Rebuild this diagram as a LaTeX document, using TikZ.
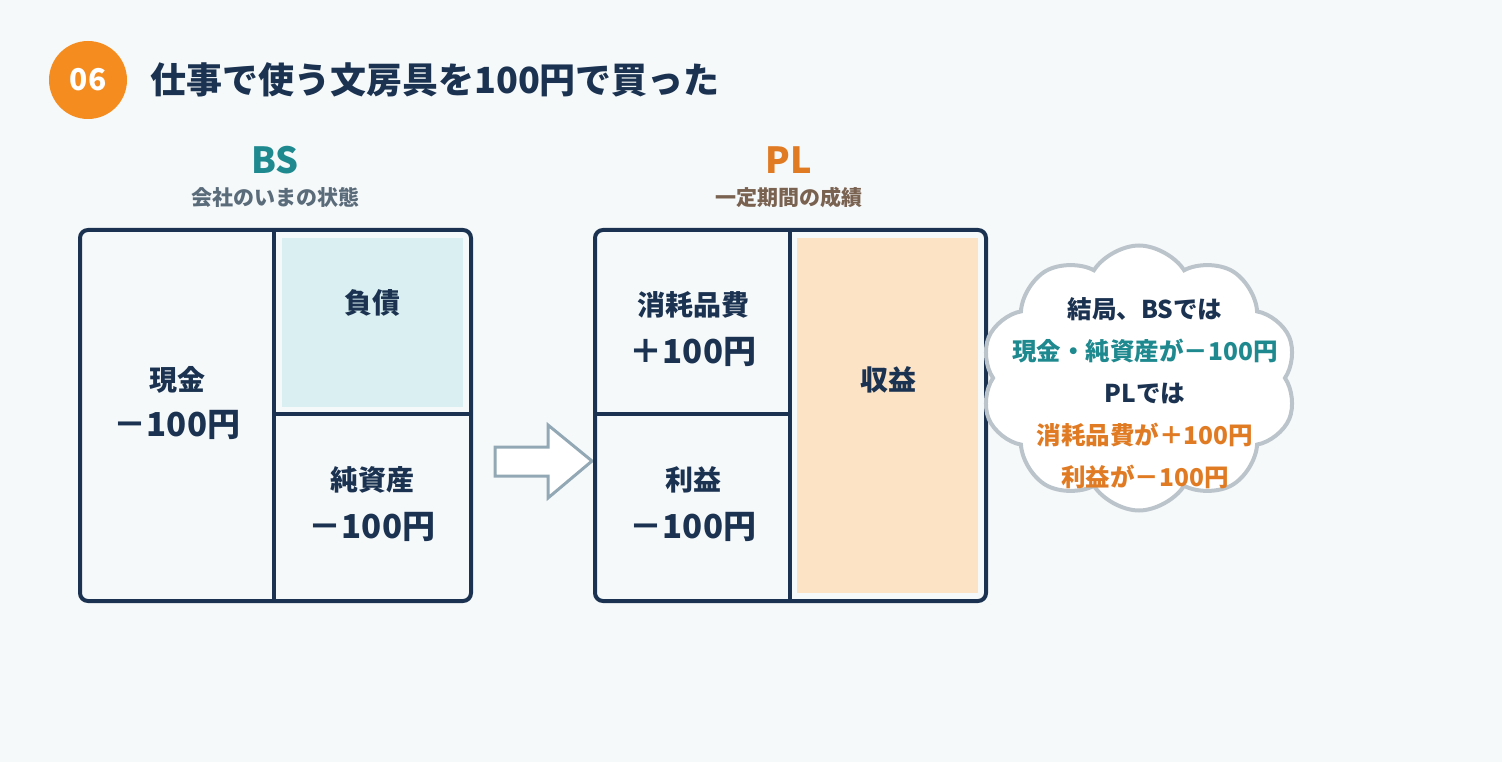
\documentclass[tikz,border=0pt]{standalone}
\usepackage{fontspec}
\setmainfont{Noto Sans CJK JP}
\usetikzlibrary{shapes.symbols}
\definecolor{bg}{HTML}{F6F9FA}
\definecolor{navy}{HTML}{1B3350}
\definecolor{orangeC}{HTML}{F58C1F}
\definecolor{teal}{HTML}{1E8A8F}
\definecolor{orangeT}{HTML}{E07B24}
\definecolor{greyT}{HTML}{5A6B7A}
\definecolor{brownT}{HTML}{7A6250}
\definecolor{liab}{HTML}{D9EFF1}
\definecolor{rev}{HTML}{FCE3C6}
\definecolor{arrowC}{HTML}{93A8B5}
\definecolor{cloudC}{HTML}{BCC4CB}
\tikzset{
  frame/.style={draw=navy, line width=4pt, rounded corners=8pt},
  divider/.style={draw=navy, line width=4pt},
  lbl/.style={font=\bfseries\fontsize{28}{32}\selectfont, text=navy, inner sep=0pt},
  amt/.style={font=\bfseries\fontsize{33}{36}\selectfont, text=navy, inner sep=0pt},
  head/.style={font=\bfseries\fontsize{36}{40}\selectfont, inner sep=0pt},
  sub/.style={font=\bfseries\fontsize{21}{24}\selectfont, inner sep=0pt},
}
\begin{document}
\begin{tikzpicture}[x=1pt,y=-1pt]
\fill[bg] (0,0) rectangle (1502,762);
\useasboundingbox (0,0) rectangle (1502,762);
% header
\node[circle, fill=orangeC, minimum size=78pt, inner sep=0pt, text=white, font=\bfseries\fontsize{30}{34}\selectfont] (num) at (88,80) {06};
\node[anchor=west, inner sep=0pt, text=navy, font=\bfseries\fontsize{36}{40}\selectfont] (title) at (150,80) {仕事で使う文房具を100円で買った};
% BS
\node[head, text=teal] (bsh) at (275,160) {BS};
\node[sub, text=greyT] (bss) at (275,197) {会社のいまの状態};
\fill[liab] (282,238) rectangle (463,407);
\draw[frame] (80,230) rectangle (471,601);
\draw[divider] (274,230) -- (274,601);
\draw[divider] (274,414) -- (471,414);
\node[lbl] (cash) at (177,380) {現金};
\node[amt] (cashv) at (177,425) {－100円};
\node[lbl] (liabl) at (372,303) {負債};
\node[lbl] (eq) at (372,480) {純資産};
\node[amt] (eqv) at (372,527) {－100円};
% arrow
\draw[draw=arrowC, fill=white, line width=3pt, line join=miter]
  (495,447) -- (548,447) -- (548,425) -- (592,461) -- (548,498) -- (548,476) -- (495,476) -- cycle;
% PL
\node[head, text=orangeT] (plh) at (789,160) {PL};
\node[sub, text=brownT] (pls) at (789,197) {一定期間の成績};
\fill[rev] (797,238) rectangle (978,593);
\draw[frame] (595,230) rectangle (986,601);
\draw[divider] (790,230) -- (790,601);
\draw[divider] (595,414) -- (790,414);
\node[lbl] (exp) at (693,305) {消耗品費};
\node[amt] (expv) at (693,352) {＋100円};
\node[lbl] (prof) at (693,480) {利益};
\node[amt] (profv) at (693,527) {－100円};
\node[lbl] (revl) at (888,380) {収益};
% cloud
\node[cloud, cloud puffs=10, cloud puff arc=115, aspect=1.2, draw=cloudC, fill=white, line width=4pt, minimum width=316pt, minimum height=265pt] (cl) at (1139,378) {};
\node[align=center, inner sep=0pt, font=\bfseries\fontsize{24.5}{42}\selectfont] (cltext) at (1145,393) {%
\textcolor{navy}{結局、BSでは}\\
\textcolor{teal}{現金・純資産が－100円}\\
\textcolor{navy}{PLでは}\\
\textcolor{orangeT}{消耗品費が＋100円}\\
\textcolor{orangeT}{利益が－100円}};
\end{tikzpicture}
\end{document}
